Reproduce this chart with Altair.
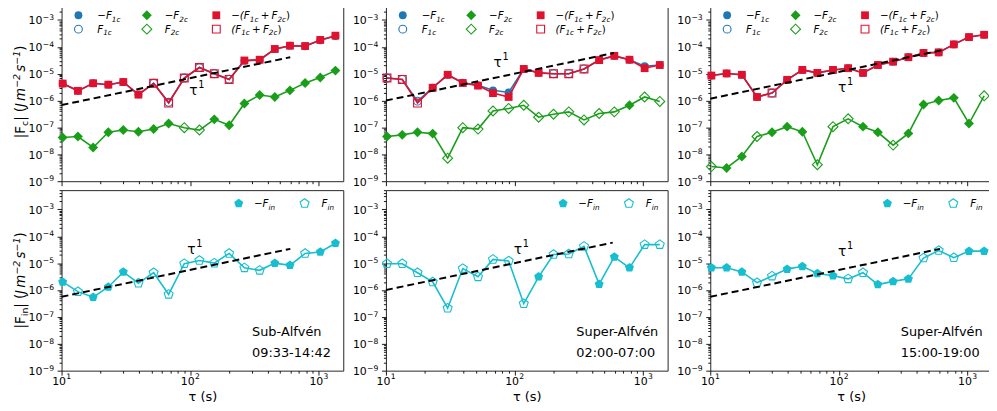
import altair as alt
import pandas as pd

# ---------------- data ----------------
TAU = [10.2, 13.4, 17.6, 23.1, 30.2, 39.6, 52.0, 68.0, 90.0, 118.0, 154.0, 201.0,
       264.0, 347.0, 455.0, 597.0, 783.0, 1027.0, 1347.0]

# signed values: negative -> plotted as -F (filled marker), positive -> F (open marker)
P1_F1C = [-4.3e-6, -2.3e-6, -4.4e-6, -3.9e-6, -4.9e-6, -1.7e-6, 4.4e-6, 8.6e-7, 6.9e-6, 1.7e-5,
          1.0e-5, 6.2e-6, -3.0e-5, -3.2e-5, -8.2e-5, -1.1e-4, -1.05e-4, -1.75e-4, -2.5e-4]
P1_F2C = [-4.2e-8, -4.6e-8, -1.8e-8, -6.6e-8, -8.0e-8, -6.9e-8, -8.7e-8, -1.4e-7, 9.8e-8, 8.0e-8,
          -2.0e-7, -1.2e-7, -7.8e-7, -1.6e-6, -1.36e-6, -2.4e-6, -4.5e-6, -7.2e-6, -1.3e-5]
P1_SUM = [-4.3e-6, -2.3e-6, -4.4e-6, -3.9e-6, -4.9e-6, -1.66e-6, 4.4e-6, 8.1e-7, 6.9e-6, 1.7e-5,
          1.0e-5, 6.1e-6, -3.1e-5, -3.3e-5, -8.3e-5, -1.1e-4, -1.07e-4, -1.8e-4, -2.6e-4]
P1_FIN = [-2.0e-6, 8.7e-7, -5.4e-7, -1.3e-6, -4.7e-6, 1.8e-6, 4.4e-6, 6.9e-7, 9.6e-6, 1.26e-5,
          1.0e-5, 2.3e-5, 6.7e-6, 5.4e-6, -1.0e-5, -8.3e-6, 2.3e-5, -2.6e-5, -5.5e-5]

P2_F1C = [6.9e-6, 6.1e-6, 9.5e-7, -3.0e-6, -9.1e-6, -4.6e-6, -3.7e-6, -2.4e-6, -2.0e-6, -1.5e-5,
          -1.08e-5, 1.0e-5, 1.0e-5, 1.5e-5, -3.2e-5, -4.6e-5, -3.3e-5, -1.9e-5, -2.1e-5]
P2_F2C = [-4.6e-8, -5.3e-8, -6.6e-8, -5.9e-8, 7.2e-9, 9.8e-8, 8.7e-8, 4.1e-7, 5.1e-7, 6.7e-7,
          2.4e-7, 3.1e-7, 3.8e-7, 1.9e-7, 3.3e-7, 3.8e-7, -6.7e-7, 1.36e-6, 9.3e-7]
P2_SUM = [6.9e-6, 6.1e-6, 8.1e-7, -3.0e-6, -9.1e-6, -4.5e-6, -3.6e-6, -1.9e-6, -1.36e-6, -1.5e-5,
          -1.07e-5, 1.0e-5, 1.0e-5, 1.5e-5, -3.2e-5, -4.6e-5, -3.3e-5, -1.6e-5, -2.1e-5]
P2_FIN = [9.5e-6, 9.5e-6, 4.4e-6, 2.0e-6, 2.1e-7, 6.3e-6, 3.1e-6, 1.38e-5, 1.2e-5, 3.1e-7,
          -3.1e-6, 2.1e-5, 2.2e-5, 4.2e-5, -1.66e-6, -1.7e-5, -6.7e-6, 4.9e-5, 4.9e-5]

P3_F1C = [-8.5e-6, -1.02e-5, -9.1e-6, -1.36e-6, 1.9e-6, -5.9e-6, -1.38e-5, -1.07e-5, -1.38e-5, -1.6e-5,
          -1.07e-5, -2.1e-5, -2.8e-5, -4.1e-5, -5.9e-5, -6.2e-5, -1.23e-4, -2.3e-4, -2.8e-4]
P3_F2C = [3.5e-9, -3.1e-9, -8.3e-9, 4.6e-8, -6.6e-8, -1.07e-7, -6.9e-8, 4.1e-9, 1.07e-7, 2.1e-7,
          -1.07e-7, -6.6e-8, 2.2e-8, -6.0e-8, -7.1e-7, -1.0e-6, -1.26e-6, -1.4e-7, 1.5e-6]
P3_SUM = [-8.5e-6, -1.02e-5, -9.1e-6, -1.36e-6, 1.9e-6, -5.9e-6, -1.38e-5, -1.07e-5, -1.38e-5, -1.6e-5,
          -1.07e-5, -2.1e-5, -2.8e-5, -4.1e-5, -5.9e-5, -6.2e-5, -1.23e-4, -2.3e-4, -2.8e-4]
P3_FIN = [-6.7e-6, -6.7e-6, -4.7e-6, 1.87e-6, 3.3e-6, -6.0e-6, -7.6e-6, -4.1e-6, -3.4e-6, 2.6e-6,
          4.4e-6, -1.6e-6, -2.1e-6, -2.6e-6, 1.55e-5, 2.95e-5, 1.6e-5, -2.8e-5, -2.8e-5]

# tau^1 reference lines: [start, end] in tau and value
DASH_TOP_TAU = [[10, 600], [10, 593], [10, 630]]
DASH_TOP_VAL = [[6.8e-7, 4.1e-5], [1.0e-6, 5.9e-5], [1.17e-6, 7.4e-5]]
DASH_BOT_TAU = [[10, 601], [10, 580], [10, 611]]
DASH_BOT_VAL = [[5.6e-7, 3.4e-5], [1.0e-6, 5.8e-5], [5.6e-7, 3.4e-5]]
TAU_LBL_TOP = [[112, 2.3e-6], [78, 2.5e-5], [112, 2.9e-6]]
TAU_LBL_BOT = [[108, 3.2e-5], [112, 3.0e-5], [112, 2.7e-5]]

REGIME = ["Sub-Alfvén", "Super-Alfvén", "Super-Alfvén"]
PERIOD = ["09:33-14:42", "02:00-07:00", "15:00-19:00"]

# tick labels (powers of ten)
X_EXP = [1, 2, 3]
Y_EXP = [-9, -8, -7, -6, -5, -4, -3]

PANELS = [
    (P1_F1C, P1_F2C, P1_SUM, P1_FIN),
    (P2_F1C, P2_F2C, P2_SUM, P2_FIN),
    (P3_F1C, P3_F2C, P3_SUM, P3_FIN),
]

# ---------------- style ----------------
BLUE = "#1f77b4"
GREEN = "#1a9e1a"
RED = "#e0112f"
CYAN = "#17becf"
FONT = "DejaVu Sans"
PENT = "M0,-1L0.951,-0.309L0.588,0.809L-0.588,0.809L-0.951,-0.309Z"
W_PX, H_PX = 284, 182
SZ = {"circle": 62, "diamond": 100, "square": 62, PENT: 90}
LF, LS = 11, 7.7  # tick label font and its superscript size

XDOM = [10, 1550]
YDOM = [1e-9, 5.2e-3]
xs = alt.Scale(type="log", domain=XDOM, nice=False)
ys = alt.Scale(type="log", domain=YDOM, nice=False)

XT = [m * 10 ** k for k in (1, 2, 3) for m in range(1, 10) if m * 10 ** k <= XDOM[1]]
YT = [float(f"{m}e{k}") for k in range(-9, -2) for m in range(1, 10) if float(f"{m}e{k}") <= YDOM[1]]

major_test = "abs(log(datum.value)/LN10 - round(log(datum.value)/LN10)) < 0.01"
tick_size = {"condition": {"test": major_test, "value": 4.5}, "value": 2.5}

x_axis_top = alt.Axis(values=XT, labels=False, title=None, tickSize=tick_size, grid=False)
x_axis_bot = alt.Axis(values=XT, labels=False, title="τ (s)", tickSize=tick_size,
                      titlePadding=15, grid=False)
y_axis = alt.Axis(values=YT, labels=False, title=None, tickSize=tick_size, grid=False)

# DejaVu Sans advance widths (em)
WID = {"−": 0.838, "+": 0.838, "(": 0.390, ")": 0.390, " ": 0.318, "F": 0.575, "c": 0.550,
       "i": 0.278, "n": 0.634, "|": 0.337, "J": 0.295, "m": 0.974, "s": 0.521}
for d in "0123456789":
    WID[d] = 0.636


def tw(s, fs):
    return sum(WID.get(ch, 0.6) for ch in s) * fs


def h_pieces(pieces, x0, yb):
    rows, x = [], x0
    for text, fs, ital, dy, gap in pieces:
        x += gap * fs
        rows.append(dict(x=x, y=yb + dy, t=text, fs=fs, it=ital))
        x += tw(text, fs)
    return rows


def v_pieces(pieces, xb, yc):
    total = sum(tw(t, fs) + gap * fs for t, fs, _, _, gap in pieces)
    rows, y = [], yc + total / 2
    for text, fs, ital, dx, gap in pieces:
        y -= gap * fs
        rows.append(dict(x=xb + dx, y=y, t=text, fs=fs, it=ital))
        y -= tw(text, fs)
    return rows


def text_layers(rows, angle=0):
    out = []
    for ital in (False, True):
        sub = [r for r in rows if r["it"] == ital]
        if not sub:
            continue
        out.append(
            alt.Chart(pd.DataFrame(sub)).mark_text(
                font=FONT, fontStyle="italic" if ital else "normal", align="left",
                baseline="alphabetic", color="black", angle=angle
            ).encode(
                x=alt.X("x:Q", scale=None, axis=None),
                y=alt.Y("y:Q", scale=None, axis=None),
                text="t:N",
                size=alt.Size("fs:Q", scale=None, legend=None),
            )
        )
    return out


def marker_layers(rows):
    out = []
    for filled in (True, False):
        sub = [r for r in rows if r["f"] == filled]
        out.append(
            alt.Chart(pd.DataFrame(sub)).mark_point(filled=filled, opacity=1, strokeWidth=1.1).encode(
                x=alt.X("x:Q", scale=None, axis=None),
                y=alt.Y("y:Q", scale=None, axis=None),
                shape=alt.Shape("shape:N", scale=None, legend=None),
                color=alt.Color("c:N", scale=None, legend=None),
                size=alt.Size("s:Q", scale=None, legend=None),
            )
        )
    return out


def series(vals, color, shape, lw, xaxis):
    df = pd.DataFrame({"tau": TAU, "v": vals, "a": [abs(v) for v in vals]})
    base = alt.Chart(df)
    X = alt.X("tau:Q", scale=xs, axis=xaxis)
    Y = alt.Y("a:Q", scale=ys, axis=y_axis)
    size = SZ[shape]
    line = base.mark_line(color=color, strokeWidth=lw).encode(x=X, y=Y)
    fil = base.transform_filter("datum.v < 0").mark_point(
        shape=shape, size=size, filled=True, color=color, opacity=1, strokeWidth=1).encode(x=X, y=Y)
    hol = base.transform_filter("datum.v > 0").mark_point(
        shape=shape, size=size, filled=False, color=color, opacity=1, strokeWidth=1.1).encode(x=X, y=Y)
    return [line, fil, hol]


def dash(taus, vals, xaxis):
    df = pd.DataFrame({"tau": taus, "a": vals})
    return alt.Chart(df).mark_line(color="black", strokeWidth=2, strokeDash=[7, 4]).encode(
        x=alt.X("tau:Q", scale=xs, axis=xaxis), y=alt.Y("a:Q", scale=ys, axis=y_axis))


def tau_label(pt, xaxis):
    out = []
    for txt, fs, dx, dy in (("τ", 14, -3, 0), ("1", 9.8, 5, -6)):
        df = pd.DataFrame({"tau": [pt[0]], "a": [pt[1]], "t": [txt]})
        out.append(alt.Chart(df).mark_text(font=FONT, fontSize=fs, color="black", align="center",
                                           baseline="middle", dx=dx, dy=dy).encode(
            x=alt.X("tau:Q", scale=xs, axis=xaxis), y=alt.Y("a:Q", scale=ys, axis=y_axis), text="t:N"))
    return out


def y_tick_labels(xaxis):
    df = pd.DataFrame({"a": [10.0 ** k for k in Y_EXP], "b": ["10"] * len(Y_EXP),
                       "e": ["−" + str(-k) for k in Y_EXP]})
    sup_w = tw("−3", LS)
    xr = -7.6 - sup_w
    base = alt.Chart(df)
    Y = alt.Y("a:Q", scale=ys, axis=y_axis)
    t1 = base.mark_text(font=FONT, fontSize=LF, align="right", baseline="alphabetic", dy=4.4,
                        color="black").encode(x=alt.value(xr - 0.3), y=Y, text="b:N")
    t2 = base.mark_text(font=FONT, fontSize=LS, align="left", baseline="alphabetic", dy=0,
                        color="black").encode(x=alt.value(xr), y=Y, text="e:N")
    return [t1, t2]


def x_tick_labels(xaxis):
    df = pd.DataFrame({"tau": [10.0 ** k for k in X_EXP], "b": ["10"] * len(X_EXP),
                       "e": [str(k) for k in X_EXP]})
    tot = tw("10", LF) + tw("1", LS)
    off = tot / 2 - tw("1", LS)
    base = alt.Chart(df)
    X = alt.X("tau:Q", scale=xs, axis=xaxis)
    t1 = base.mark_text(font=FONT, fontSize=LF, align="right", baseline="alphabetic", dx=off,
                        color="black").encode(x=X, y=alt.value(H_PX + 14), text="b:N")
    t2 = base.mark_text(font=FONT, fontSize=LS, align="left", baseline="alphabetic", dx=off + 0.3,
                        color="black").encode(x=X, y=alt.value(H_PX + 8.5), text="e:N")
    return [t1, t2]


MAIN, SUB = 10.4, 7.3
LEG_TOP = [
    [("−F", MAIN, True, 0, 0), ("1c", SUB, True, 2.5, 0)],
    [("F", MAIN, True, 0, 0), ("1c", SUB, True, 2.5, 0)],
    [("−F", MAIN, True, 0, 0), ("2c", SUB, True, 2.5, 0)],
    [("F", MAIN, True, 0, 0), ("2c", SUB, True, 2.5, 0)],
    [("−(F", MAIN, True, 0, 0), ("1c", SUB, True, 2.5, 0), ("+", MAIN, False, 0, 0.22),
     ("F", MAIN, True, 0, 0.22), ("2c", SUB, True, 2.5, 0), (")", MAIN, False, 0, 0)],
    [("(F", MAIN, True, 0, 0), ("1c", SUB, True, 2.5, 0), ("+", MAIN, False, 0, 0.22),
     ("F", MAIN, True, 0, 0.22), ("2c", SUB, True, 2.5, 0), (")", MAIN, False, 0, 0)],
]
LEG_TOP_POS = [(36, 18.5), (36, 32.5), (104, 18.5), (104, 32.5), (171, 18.5), (171, 32.5)]
LEG_BOT = [
    [("−F", MAIN, True, 0, 0), ("in", SUB, True, 2.5, 0)],
    [("F", MAIN, True, 0, 0), ("in", SUB, True, 2.5, 0)],
]
LEG_BOT_POS = [(194, 17.2), (262, 17.2)]

TF, TS = 13.5, 9.5
YTITLE_TOP = [("|F", TF, False, 0, 0), ("c", TS, False, 3, 0), ("|", TF, False, 0, 0),
              ("(", TF, False, 0, 0.3), ("J", TF, True, 0, 0), ("m", TF, True, 0, 0.17),
              ("−2", TS, True, -5, 0), ("s", TF, True, 0, 0.17), ("−1", TS, True, -5, 0),
              (")", TF, False, 0, 0)]
YTITLE_BOT = [("|F", TF, False, 0, 0), ("in", TS, False, 3, 0), ("|", TF, False, 0, 0),
              ("(", TF, False, 0, 0.3), ("J", TF, True, 0, 0), ("m", TF, True, 0, 0.17),
              ("−2", TS, True, -5, 0), ("s", TF, True, 0, 0.17), ("−1", TS, True, -5, 0),
              (")", TF, False, 0, 0)]

cells_top, cells_bot = [], []
for i, (f1c, f2c, fsum, fin) in enumerate(PANELS):
    # ---- top panel ----
    layers = []
    layers += series(f1c, BLUE, "circle", 1.6, x_axis_top)
    layers += series(f2c, GREEN, "diamond", 1.6, x_axis_top)
    layers += series(fsum, RED, "square", 1.6, x_axis_top)
    layers.append(dash(DASH_TOP_TAU[i], DASH_TOP_VAL[i], x_axis_top))
    layers += tau_label(TAU_LBL_TOP[i], x_axis_top)
    layers += y_tick_labels(x_axis_top)
    mk = []
    for (xm, col, shp) in [(17, BLUE, "circle"), (86, GREEN, "diamond"), (156, RED, "square")]:
        mk.append(dict(x=xm, y=14.7, c=col, shape=shp, s=SZ[shp], f=True))
        mk.append(dict(x=xm, y=28.7, c=col, shape=shp, s=SZ[shp], f=False))
    layers += marker_layers(mk)
    rows = []
    for pcs, (px, py) in zip(LEG_TOP, LEG_TOP_POS):
        rows += h_pieces(pcs, px, py)
    layers += text_layers(rows)
    if i == 0:
        layers += text_layers(v_pieces(YTITLE_TOP, -37, 92), angle=270)
        anchor = alt.Chart(pd.DataFrame({"k": [0]})).mark_rule(strokeOpacity=0).encode(
            x=alt.value(-61), x2=alt.value(-61), y=alt.value(0), y2=alt.value(5))
        layers.append(anchor)
    cells_top.append(alt.layer(*layers).properties(width=W_PX, height=H_PX))

    # ---- bottom panel ----
    layers = []
    layers += series(fin, CYAN, PENT, 1.6, x_axis_bot)
    layers.append(dash(DASH_BOT_TAU[i], DASH_BOT_VAL[i], x_axis_bot))
    layers += tau_label(TAU_LBL_BOT[i], x_axis_bot)
    layers += y_tick_labels(x_axis_bot)
    layers += x_tick_labels(x_axis_bot)
    mk = [dict(x=178.6, y=13.4, c=CYAN, shape=PENT, s=SZ[PENT], f=True),
          dict(x=245, y=13.4, c=CYAN, shape=PENT, s=SZ[PENT], f=False)]
    layers += marker_layers(mk)
    rows = []
    for pcs, (px, py) in zip(LEG_BOT, LEG_BOT_POS):
        rows += h_pieces(pcs, px, py)
    layers += text_layers(rows)
    ann = pd.DataFrame({"x": [192, 192], "y": [142.7, 164.3], "t": [REGIME[i], PERIOD[i]]})
    layers.append(alt.Chart(ann).mark_text(font=FONT, fontSize=13, align="left", baseline="middle",
                                           color="black").encode(
        x=alt.X("x:Q", scale=None, axis=None), y=alt.Y("y:Q", scale=None, axis=None), text="t:N"))
    if i == 0:
        layers += text_layers(v_pieces(YTITLE_BOT, -37, 91), angle=270)
    cells_bot.append(alt.layer(*layers).properties(width=W_PX, height=H_PX))

chart = alt.concat(*(cells_top + cells_bot), columns=3, spacing={"row": 9, "column": 43},
                   bounds="flush").properties(
    padding={"top": -10, "left": -8, "right": -4, "bottom": -2},
    autosize=alt.AutoSizeParams(type="pad"),
).configure_view(stroke="#262626", strokeWidth=1).configure_axis(
    domain=False, tickColor="black", tickWidth=0.9, labelFont=FONT, labelFontSize=11,
    labelColor="black", titleFont=FONT, titleFontSize=13, titleFontWeight="normal", titleColor="black"
)

chart.save("out.html", embed_options={"renderer": "svg", "actions": False})
